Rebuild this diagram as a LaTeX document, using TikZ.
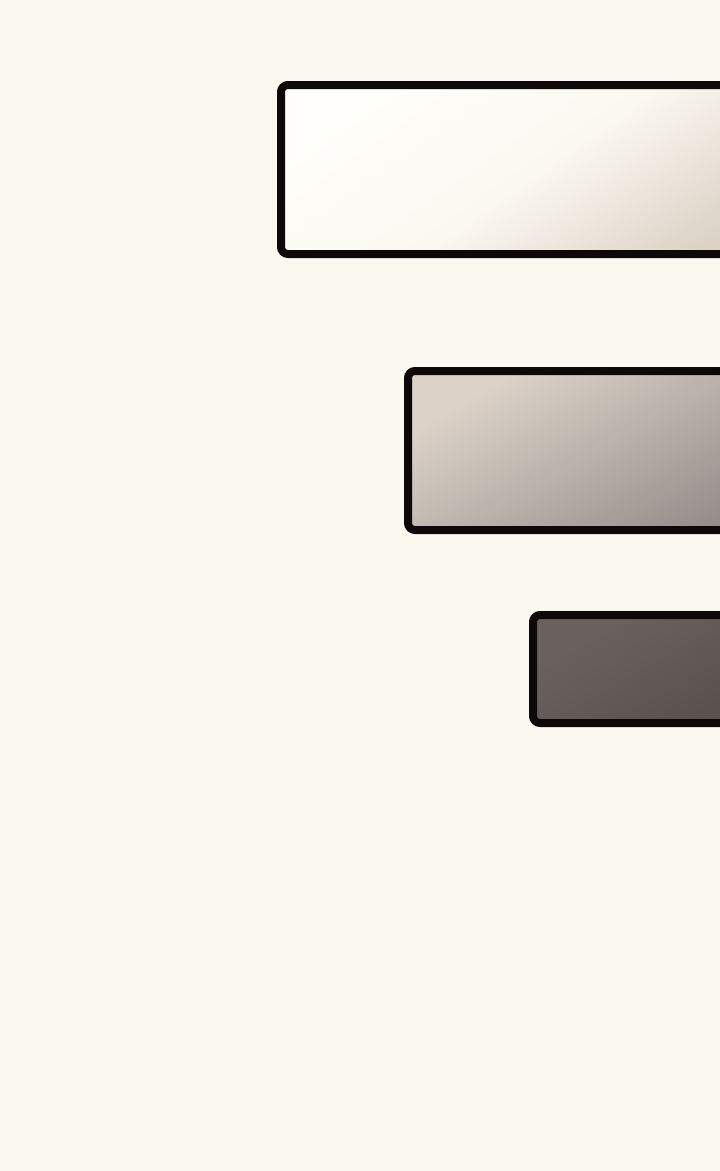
\documentclass[tikz,border=0pt]{standalone}
\usetikzlibrary{positioning}

\definecolor{paper}{HTML}{FBF8EF}
\definecolor{ink}{HTML}{0E0908}
\definecolor{lightA}{HTML}{FFFEFA}
\definecolor{lightM}{HTML}{FBF8F1}
\definecolor{lightB}{HTML}{DCD2C6}
\definecolor{midA}{HTML}{DCD2C8}
\definecolor{midB}{HTML}{827C7A}
\definecolor{darkA}{HTML}{6A615E}
\definecolor{darkB}{HTML}{4A403E}

\begin{document}
\begin{tikzpicture}[
  x=1pt, y=-1pt,
  bar/.style={draw=ink, line width=8pt, rounded corners=7pt, anchor=north west,
    inner sep=0pt, outer sep=0pt, minimum width=520pt},
  pale/.style={bar, top color=lightA, bottom color=lightB, middle color=lightM, shading angle=35},
  greybar/.style={bar, top color=midA, bottom color=midB, shading angle=30},
  darkbar/.style={bar, top color=darkA, bottom color=darkB, shading angle=30}
]

\fill[paper] (0,0) rectangle (720,1171);
\useasboundingbox (0,0) rectangle (720,1171);
\clip (0,0) rectangle (720,1171);

\node[pale, minimum height=169pt] (top) at (281,85) {};
\node[greybar, minimum height=159pt] (middle) at (408,371) {};
\node[darkbar, minimum height=108pt] (bottom) at (533,615) {};

\end{tikzpicture}
\end{document}
